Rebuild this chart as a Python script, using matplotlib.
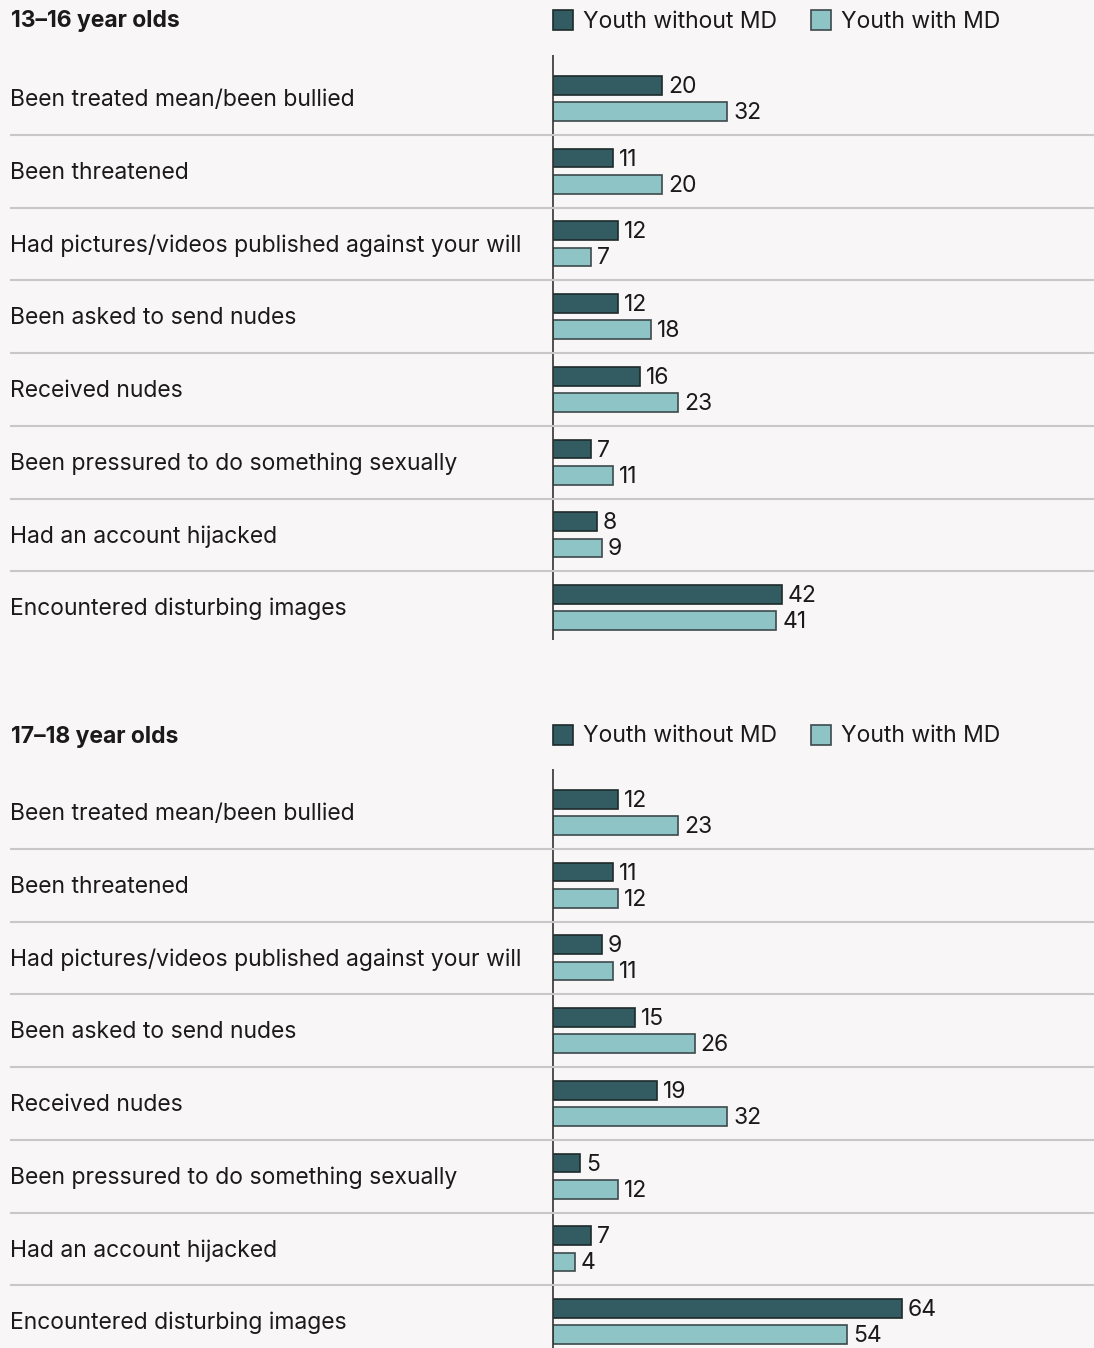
import matplotlib.pyplot as plt
from matplotlib.patches import Rectangle

plt.rcParams['font.family'] = ['Inter', 'DejaVu Sans']

categories = [
    'Been treated mean/been bullied',
    'Been threatened',
    'Had pictures/videos published against your will',
    'Been asked to send nudes',
    'Received nudes',
    'Been pressured to do something sexually',
    'Had an account hijacked',
    'Encountered disturbing images',
]
series_names = ['Youth without MD', 'Youth with MD']

young_without = [20, 11, 12, 12, 16, 7, 8, 42]
young_with = [32, 20, 7, 18, 23, 11, 9, 41]
old_without = [12, 11, 9, 15, 19, 5, 7, 64]
old_with = [23, 12, 11, 26, 32, 12, 4, 54]

panels = [
    ('13–16 year olds', young_without, young_with),
    ('17–18 year olds', old_without, old_with),
]

W, H = 1094, 1348
bg = '#f8f6f7'
dark = '#335c62'
light = '#8fc4c6'
fs = 16.5
dy = 1.5  # text nudge down, px

fig = plt.figure(figsize=(W / 100, H / 100), dpi=100, facecolor=bg)


def fx(px):
    return px / W


def fy(py):
    return 1 - py / H


# panel layout in pixels: (title y, top of first row)
layouts = [(20, 62), (735, 776)]
row_h = 72.75
x0 = 553

for (title, without, withmd), (ty, top) in zip(panels, layouts):
    n = len(categories)
    bottom = top + row_h * n
    ax = fig.add_axes([fx(x0), fy(bottom), fx(W - x0), (bottom - top) / H])
    ax.set_facecolor('none')
    ax.set_xlim(0, (W - x0) / 5.45)
    ax.set_ylim(n - 0.5, -0.5)
    ax.axis('off')

    ys = list(range(n))
    ax.barh([y - 0.18 for y in ys], without, height=0.26, color=dark,
            edgecolor='#1e2a2c', linewidth=1.2)
    ax.barh([y + 0.18 for y in ys], withmd, height=0.26, color=light,
            edgecolor='#3d4a4c', linewidth=1.2)
    off = dy / row_h
    for y, a, b in zip(ys, without, withmd):
        ax.text(a + 1.1, y - 0.18 + off, str(a), va='center', ha='left',
                fontsize=fs, color='#1a1a1a')
        ax.text(b + 1.1, y + 0.18 + off, str(b), va='center', ha='left',
                fontsize=fs, color='#1a1a1a')

    # vertical baseline
    ax.plot([0, 0], [-0.6, n - 0.55], color='#333333', lw=1.2,
            clip_on=False, solid_capstyle='butt')

    # category labels and separators
    for i, cat in enumerate(categories):
        cy = top + row_h * (i + 0.5) + dy
        fig.text(fx(10), fy(cy), cat, ha='left', va='center',
                 fontsize=fs, color='#1a1a1a')
        if i > 0:
            sy = top + row_h * i
            fig.add_artist(plt.Line2D([fx(11), 1], [fy(sy), fy(sy)],
                                      color='#c9c7c8', lw=1.5))

    # title
    fig.text(fx(11), fy(ty + dy), title, ha='left', va='center', fontsize=fs,
             fontweight='bold', color='#1a1a1a')

    # legend
    for lx, name, col, ec in [(553, series_names[0], dark, '#1e2a2c'),
                              (811, series_names[1], light, '#3d4a4c')]:
        fig.add_artist(Rectangle((fx(lx), fy(ty + 10)), fx(20), 20 / H,
                                 facecolor=col, edgecolor=ec, lw=1.2,
                                 transform=fig.transFigure))
        fig.text(fx(lx + 30), fy(ty + dy), name, ha='left', va='center',
                 fontsize=fs, color='#1a1a1a')

fig.savefig('out.png', dpi=100, facecolor=bg)
